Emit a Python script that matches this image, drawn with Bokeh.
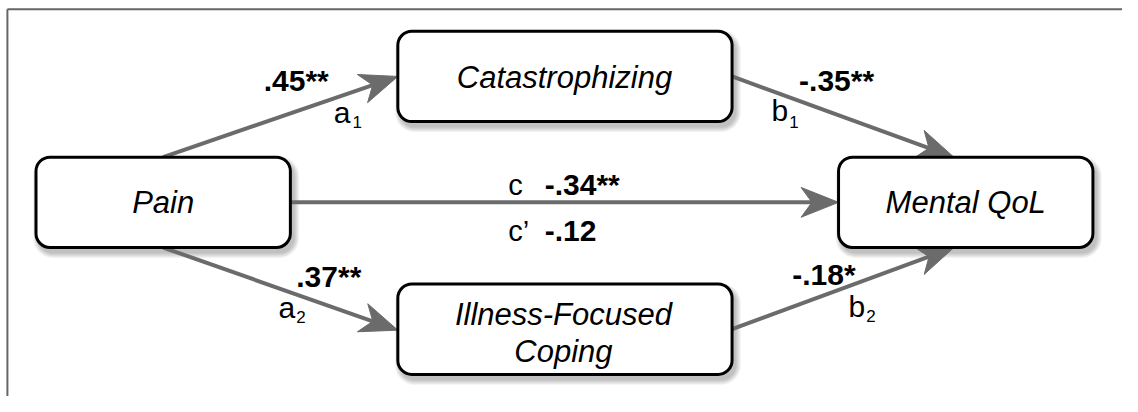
import math
from bokeh.plotting import figure
from bokeh.models import Range1d
from bokeh.core.properties import value
from bokeh.embed import file_html
from bokeh.resources import INLINE

# ---- data ----
node_names = ["Pain", "Catastrophizing", "Illness-Focused\nCoping", "Mental QoL"]
path_names = ["a1", "a2", "b1", "b2", "c"]
path_coefs = [".45**", ".37**", "-.35**", "-.18*", "-.34**"]
direct_label = "c’"
direct_coef = "-.12"

# ---- layout (reference pixel coordinates, 1138 x 412) ----
W, H = 1122, 396
RW, RH = 1138, 412
TDY = -8  # screen-pixel correction for text baseline
def Y(py):
    return RH - py

boxes = {  # left, right, top, bottom (pixels)
    "Pain": (36, 294, 163, 257),
    "Catastrophizing": (403, 742, 32, 126),
    "Illness-Focused\nCoping": (403, 742, 295, 389),
    "Mental QoL": (850, 1108, 163, 257),
}

p = figure(width=W, height=H, output_backend="svg", toolbar_location=None,
           x_range=Range1d(0, RW), y_range=Range1d(0, RH),
           min_border=0, outline_line_color=None)
p.axis.visible = False
p.grid.visible = False
p.background_fill_color = "white"

FONT = value("Liberation Sans")
GRAY = "#6b6b6b"

def txt(x, y, t, size, style="normal", align="left"):
    p.text(x=[x], y=[Y(y)], text=[t], text_font=FONT, text_font_size=size,
           text_font_style=style, text_align=align, text_baseline="alphabetic",
           text_color="black", y_offset=TDY)

# frame (top & left)
p.line([7, 7], [Y(412), Y(9)], line_color="#666666", line_width=2)
p.line([7, 1138], [Y(9), Y(9)], line_color="#666666", line_width=2)

# shadows
for e in [6, 5, 4, 3, 2, 1]:
    for name in node_names:
        l, r, t, b = boxes[name]
        p.quad(left=l + 3 - e, right=r + 3 + e, top=Y(t + 5 - e), bottom=Y(b + 5 + e),
               fill_color="black", fill_alpha=0.045, line_color=None,
               border_radius=14 + e)

# edges
edge_pts = {
    "a1": ((165, 163), (403, 79)),
    "a2": ((165, 257), (403, 343)),
    "b1": ((742, 79), (967, 163)),
    "b2": ((742, 342), (967, 257)),
    "c": ((294, 210), (850, 210)),
}
HL, HW, NOTCH = 38, 15.5, 27
seg = dict(x0=[], y0=[], x1=[], y1=[])
hx, hy = [], []
for k in path_names:
    (sx, sy), (ex, ey) = edge_pts[k]
    d = math.hypot(ex - sx, ey - sy)
    ux, uy = (ex - sx) / d, (ey - sy) / d
    nx, ny = -uy, ux
    mx, my = ex - NOTCH * ux, ey - NOTCH * uy
    seg["x0"].append(sx); seg["y0"].append(Y(sy))
    seg["x1"].append(mx); seg["y1"].append(Y(my))
    bx, by = ex - HL * ux, ey - HL * uy
    pts = [(ex, ey), (bx + HW * nx, by + HW * ny), (mx, my), (bx - HW * nx, by - HW * ny)]
    hx.append([q[0] for q in pts]); hy.append([Y(q[1]) for q in pts])
p.segment(x0="x0", y0="y0", x1="x1", y1="y1", source=seg, line_color=GRAY, line_width=4)
p.patches(xs=hx, ys=hy, fill_color=GRAY, line_color=GRAY, line_width=1)

# boxes
for name in node_names:
    l, r, t, b = boxes[name]
    p.quad(left=l, right=r, top=Y(t), bottom=Y(b), fill_color="white",
           line_color="black", line_width=3, border_radius=14)

# node labels
node_text_pos = {
    "Pain": [(165, 219, "Pain")],
    "Catastrophizing": [(572, 88, "Catastrophizing")],
    "Illness-Focused\nCoping": [(571, 335, "Illness-Focused"), (571, 373, "Coping")],
    "Mental QoL": [(979, 219, "Mental QoL")],
}
for name in node_names:
    for (x, y, t) in node_text_pos[name]:
        txt(x, y, t, "31px", "italic", "center")

# coefficient labels (left, baseline)
coef_pos = {"a1": (267, 92), "a2": (300, 295), "b1": (810, 92),
            "b2": (803, 293), "c": (552, 200)}
for k, c in zip(path_names, path_coefs):
    x, y = coef_pos[k]
    txt(x, y, c, "30px", "bold")

# path letters with subscripts
letter_pos = {"a1": (338, 125, 357, 135), "a2": (282, 328, 300, 338),
              "b1": (782, 123, 800, 135), "b2": (860, 327, 878, 337)}
for k in ["a1", "a2", "b1", "b2"]:
    x, y, sx, sy = letter_pos[k]
    txt(x, y, k[0], "30px")
    txt(sx, sy, k[1], "17px")

txt(515, 200, "c", "29px")
txt(515, 248, direct_label, "29px")
txt(552, 248, direct_coef, "30px", "bold")

open("out.html", "w").write(file_html(p, INLINE))
